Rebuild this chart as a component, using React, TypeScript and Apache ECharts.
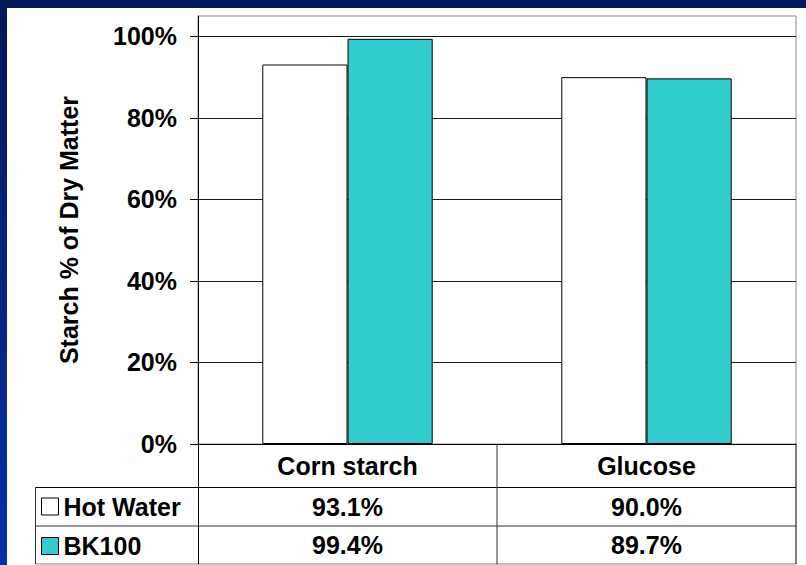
import React, { useEffect, useRef } from "react";
import * as echarts from "echarts";

const categories = ["Corn starch", "Glucose"];
const seriesNames = ["Hot Water", "BK100"];
const hotWater = [93.1, 90.0];
const bk100 = [99.4, 89.7];
const yTicks = [0, 20, 40, 60, 80, 100];

const FONT = "'Liberation Sans', Arial, Helvetica, sans-serif";
const FS = 25;

export default function App() {
  const ref = useRef<HTMLDivElement>(null);
  useEffect(() => {
    if (!ref.current) return;
    const chart = echarts.init(ref.current, null, { renderer: "svg" });
    const W = 806, H = 565;
    const gl = 198, gr = 796, gt = 16, gb = 444;
    const tableL = 35.5, row1 = 487.5, row2 = 526, tableB = 564;
    const mid = (gl + gr) / 2;
    const black = "#000";
    const line = (x1: number, y1: number, x2: number, y2: number, c = black) => ({
      type: "line",
      shape: { x1, y1, x2, y2 },
      style: { stroke: c, lineWidth: 1 },
      z: 20,
    });
    const option: any = {
      animation: false,
      backgroundColor: "#fff",
      textStyle: { fontFamily: FONT },
      grid: {
        left: gl, right: W - gr, top: gt, bottom: H - gb,
        show: true, borderColor: "#8c8c8c", borderWidth: 1, backgroundColor: "transparent",
      },
      legend: {
        orient: "vertical",
        left: 41,
        top: 494,
        padding: 0,
        itemGap: 14.5,
        itemWidth: 17,
        itemHeight: 17,
        icon: "rect",
        textStyle: { fontFamily: FONT, fontSize: FS, fontWeight: "bold", color: black, lineHeight: 24 },
        data: [
          { name: seriesNames[0], itemStyle: { color: "#fff", borderColor: black, borderWidth: 1 } },
          { name: seriesNames[1], itemStyle: { color: "#33CCCC", borderColor: black, borderWidth: 1 } },
        ],
      },
      xAxis: {
        type: "category",
        data: categories,
        axisLine: { lineStyle: { color: black, width: 1 } },
        axisTick: { show: false },
        axisLabel: {
          margin: 0,
          verticalAlign: "top",
          interval: 0,
          formatter: (v: string, i: number) =>
            `{c|${v}}\n{v|${hotWater[i].toFixed(1)}%}\n{v|${bk100[i].toFixed(1)}%}`,
          rich: {
            c: { fontFamily: FONT, fontSize: FS, fontWeight: "bold", color: black, lineHeight: 43.5 },
            v: { fontFamily: FONT, fontSize: FS, fontWeight: "bold", color: black, lineHeight: 38.5 },
          },
        },
      },
      yAxis: {
        type: "value",
        min: 0,
        max: 105,
        interval: 20,
        name: "Starch % of Dry Matter",
        nameLocation: "middle",
        nameGap: 117,
        nameTextStyle: { fontFamily: FONT, fontSize: FS, fontWeight: "bold", color: black },
        axisLine: { show: true, lineStyle: { color: black, width: 1 } },
        axisTick: { show: true, length: 8, lineStyle: { color: black }, customValues: yTicks },
        axisLabel: {
          margin: 21,
          customValues: yTicks,
          formatter: (v: number) => (v > 100 ? "" : `${v}%`),
          fontFamily: FONT, fontSize: FS, fontWeight: "bold", color: black,
        },
        splitLine: { show: true, lineStyle: { color: "#1a1a1a", width: 1 } },
      },
      series: [
        {
          name: seriesNames[0],
          type: "bar",
          data: hotWater,
          barGap: "0%",
          barCategoryGap: "43%",
          itemStyle: { color: "#fff", borderColor: black, borderWidth: 1 },
        },
        {
          name: seriesNames[1],
          type: "bar",
          data: bk100,
          barGap: "0%",
          barCategoryGap: "43%",
          itemStyle: { color: "#33CCCC", borderColor: black, borderWidth: 1 },
        },
      ],
      graphic: [
        {
          type: "rect", shape: { x: 0, y: 0, width: W, height: 8 },
          style: { fill: "#001858" }, z: 30,
        },
        {
          type: "rect", shape: { x: 0, y: 0, width: 7, height: H },
          style: {
            fill: new echarts.graphic.LinearGradient(0, 0, 0, 1, [
              { offset: 0, color: "#001858" },
              { offset: 1, color: "#0a2fa6" },
            ]),
          },
          z: 30,
        },
        line(tableL, row1, gr, row1),
        line(tableL, row2, gr, row2, "#333"),
        line(tableL, tableB, gr, tableB, "#808080"),
        line(tableL, row1, tableL, tableB, "#333"),
        line(gl + 0.5, gb, gl + 0.5, tableB),
        line(mid, gb, mid, tableB, "#333"),
        line(gr, gb, gr, tableB),
      ],
    };
    chart.setOption(option);
    return () => chart.dispose();
  }, []);
  return (
    <div
      ref={ref}
      style={{ position: "fixed", left: 0, top: 0, width: 806, height: 565 }}
    />
  );
}
